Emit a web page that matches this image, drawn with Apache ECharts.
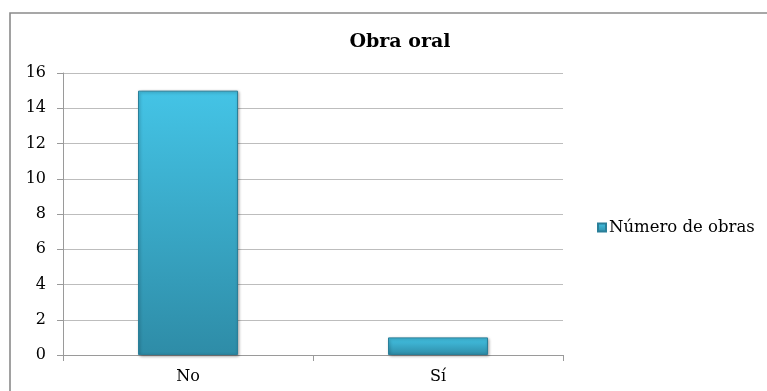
<!DOCTYPE html>
<html><head><meta charset="utf-8">
<script src="https://cdn.jsdelivr.net/npm/echarts@6/dist/echarts.min.js"></script>
<style>html,body{margin:0;padding:0;background:#fff}#c{width:767px;height:391px}</style>
</head><body><div id="c"></div>
<script>
const categories = ["No", "Sí"];
const seriesName = "Número de obras";
const values = [15, 1];
const yTicks = [0, 2, 4, 6, 8, 10, 12, 14, 16];

const chart = echarts.init(document.getElementById('c'));
const font = '"DejaVu Serif", "Liberation Serif", serif';
const barColor = new echarts.graphic.LinearGradient(0, 0, 0, 1, [
  {offset: 0, color: '#44c4e6'},
  {offset: 1, color: '#2e8ca7'}
]);
chart.setOption({
  animation: false,
  graphic: [{
    type: 'rect', shape: {x: 10, y: 13, width: 770, height: 400},
    style: {fill: 'none', stroke: '#8a8a8a', lineWidth: 1.6}
  }],
  title: {
    text: 'Obra oral', left: 395, top: 28, textAlign: 'center',
    textStyle: {fontFamily: font, fontSize: 19, fontWeight: 'bold', color: '#000'}
  },
  legend: {
    data: [seriesName], left: 592, top: 214, itemWidth: 8, itemHeight: 8, itemGap: 2,
    icon: 'rect',
    textStyle: {fontFamily: font, fontSize: 16.5, color: '#000', padding: [0, 0, 0, -2]}
  },
  grid: {left: 63, top: 73, width: 500, height: 282, containLabel: false},
  xAxis: {
    type: 'category', data: categories,
    axisLine: {lineStyle: {color: '#9a9a9a'}},
    axisTick: {show: true, length: 6, lineStyle: {color: '#9a9a9a'}},
    axisLabel: {fontFamily: font, fontSize: 16, color: '#000', margin: 14}
  },
  yAxis: {
    type: 'value', min: 0, max: 16, interval: 2,
    axisLine: {show: true, lineStyle: {color: '#9a9a9a'}},
    axisTick: {show: true, length: 6, lineStyle: {color: '#9a9a9a'}},
    splitLine: {lineStyle: {color: '#bdbdbd'}},
    axisLabel: {fontFamily: font, fontSize: 16, color: '#000', margin: 17,
      formatter: v => yTicks.includes(v) ? String(v) : ''}
  },
  series: [{
    name: seriesName, type: 'bar', data: values, barWidth: 100,
    itemStyle: {color: barColor, borderColor: '#2a7f99', borderWidth: 1,
      shadowColor: 'rgba(0,0,0,0.35)', shadowBlur: 3, shadowOffsetX: 1, shadowOffsetY: 1}
  }]
});
</script></body></html>
